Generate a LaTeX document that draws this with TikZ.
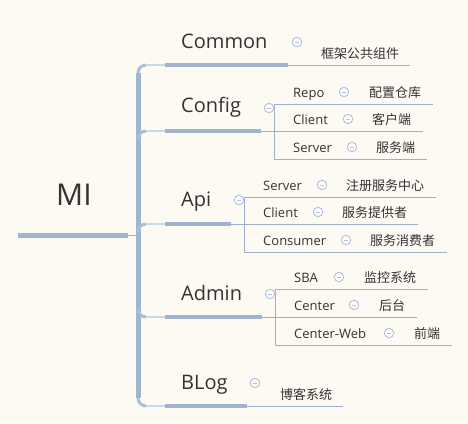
\documentclass[tikz,border=0pt]{standalone}
\usepackage{fontspec}
\setmainfont{Open Sans}
\newfontfamily\cjk{Noto Sans CJK SC}
\usepackage{tikz}
\usetikzlibrary{positioning}
\usepackage{xcolor}
\definecolor{mmbg}{RGB}{253,250,243}
\definecolor{mmline}{RGB}{160,180,205}
\definecolor{mmlight}{RGB}{205,216,230}
\definecolor{mmthin}{RGB}{158,176,202}
\definecolor{mmfold}{RGB}{178,192,228}
\definecolor{mmtext}{RGB}{51,51,51}
\tikzstyle{trunk} = [line width=5pt, color=mmline]
\tikzstyle{corner} = [line width=3pt, color=mmline!70!mmlight]
\tikzstyle{stem} = [line width=1.6pt, color=mmlight]
\tikzstyle{underline} = [line width=4pt, color=mmline]
\tikzstyle{thinline} = [line width=1pt, color=mmthin]
\tikzstyle{roottopic} = [anchor=base west, inner sep=0pt, text=mmtext, font=\fontsize{30}{36}\selectfont]
\tikzstyle{topic} = [anchor=base west, inner sep=0pt, text=mmtext, font=\fontsize{20}{24}\selectfont]
\tikzstyle{subtopic} = [anchor=base west, inner sep=0pt, text=mmtext, font=\fontsize{13}{16}\selectfont]
\tikzstyle{cntopic} = [subtopic, font=\fontsize{13}{16}\selectfont\cjk]
\tikzstyle{foldicon} = [circle, draw=mmfold, fill=white!60!mmbg, line width=0.9pt, minimum size=9.5pt, inner sep=0pt,
    path picture={\draw[mmfold, line width=0.9pt] ([xshift=2.3pt]path picture bounding box.west) -- ([xshift=-2.3pt]path picture bounding box.east);}]

\begin{document}
\begin{tikzpicture}[x=1pt, y=-1pt]
    \useasboundingbox[fill=mmbg] (0,0) rectangle (468,423);

    % Root
    \node[roottopic] (mi) at (56,205.7) {MI};
    \coordinate (mi-a) at (18,235);
    \coordinate (mi-b) at (128,235);
    \coordinate (hub) at (138,235);
    \draw[line width=5pt, color=mmline] (mi-a) -- (mi-b);
    \draw[thinline] (mi-b) -- (hub);

    % Branch starts
    \coordinate (common-a) at (165,65);
    \coordinate (config-a) at (165,131);
    \coordinate (api-a) at (165,224);
    \coordinate (admin-a) at (165,317);
    \coordinate (blog-a) at (165,406);

    % Trunk
    \draw[trunk] ([yshift=-8pt]hub |- common-a) -- ([yshift=8pt]hub |- blog-a);
    \foreach \b/\s in {common/-8pt, config/-8pt, api/-8pt, admin/8pt, blog/8pt}
    {
        \draw[corner, rounded corners=8pt] ([yshift=\s]hub |- \b-a) -- (hub |- \b-a) -- ([xshift=8pt]hub |- \b-a);
        \draw[stem] ([xshift=8pt]hub |- \b-a) -- (\b-a);
    }

    % Common
    \coordinate (common-b) at (288,65);
    \coordinate (common-c) at (410,65);
    \node[topic] (common) at (181,48.5) {Common};
    \node[foldicon] (common-fold) at (297,42) {};
    \node[cntopic] (common-cn) at (321,58) {框架公共组件};
    \draw[underline] (common-a) -- (common-b);
    \draw[thinline] (common-b) -- (common-c);

    % Config
    \coordinate (config-b) at (261,131);
    \coordinate (config-c) at (423,131);
    \coordinate (config-top) at (274,104);
    \coordinate (config-bot) at (274,159);
    \coordinate (repo-c) at (433,104);
    \coordinate (cfgserver-c) at (427,159);
    \node[topic] (config) at (181,112.5) {Config};
    \node[foldicon] (config-fold) at (269,108) {};
    \draw[underline] (config-a) -- (config-b);
    \draw[thinline] (config-b) -- (config-c);
    \draw[thinline] (config-top) -- (config-bot);
    \draw[thinline] (config-top) -- (repo-c);
    \draw[thinline] (config-bot) -- (cfgserver-c);
    \node[subtopic] (repo) at (293,97) {Repo};
    \node[foldicon] (repo-fold) at (344,92) {};
    \node[cntopic] (repo-cn) at (369,97) {配置仓库};
    \node[subtopic] (cfgclient) at (293,124) {Client};
    \node[foldicon] (cfgclient-fold) at (348,119) {};
    \node[cntopic] (cfgclient-cn) at (372,124) {客户端};
    \node[subtopic] (cfgserver) at (293,152) {Server};
    \node[foldicon] (cfgserver-fold) at (352,147) {};
    \node[cntopic] (cfgserver-cn) at (376,152) {服务端};

    % Api
    \coordinate (api-b) at (231,224);
    \coordinate (api-c) at (418,224);
    \coordinate (api-top) at (244,197);
    \coordinate (api-bot) at (244,252);
    \coordinate (apiserver-c) at (436,197);
    \coordinate (consumer-c) at (447,252);
    \node[topic] (api) at (181,206) {Api};
    \node[foldicon] (api-fold) at (239,200) {};
    \draw[underline] (api-a) -- (api-b);
    \draw[thinline] (api-b) -- (api-c);
    \draw[thinline] (api-top) -- (api-bot);
    \draw[thinline] (api-top) -- (apiserver-c);
    \draw[thinline] (api-bot) -- (consumer-c);
    \node[subtopic] (apiserver) at (263,190) {Server};
    \node[foldicon] (apiserver-fold) at (322,185) {};
    \node[cntopic] (apiserver-cn) at (346,190) {注册服务中心};
    \node[subtopic] (apiclient) at (263,217) {Client};
    \node[foldicon] (apiclient-fold) at (318,212) {};
    \node[cntopic] (apiclient-cn) at (342,217) {服务提供者};
    \node[subtopic] (consumer) at (263,245) {Consumer};
    \node[foldicon] (consumer-fold) at (346,240) {};
    \node[cntopic] (consumer-cn) at (370,245) {服务消费者};

    % Admin
    \coordinate (admin-b) at (262,317);
    \coordinate (admin-c) at (417,317);
    \coordinate (admin-top) at (275,289);
    \coordinate (admin-bot) at (275,345);
    \coordinate (sba-c) at (428,289);
    \coordinate (centerweb-c) at (452,345);
    \node[topic] (admin) at (181,300) {Admin};
    \node[foldicon] (admin-fold) at (270,294) {};
    \draw[underline] (admin-a) -- (admin-b);
    \draw[thinline] (admin-b) -- (admin-c);
    \draw[thinline] (admin-top) -- (admin-bot);
    \draw[thinline] (admin-top) -- (sba-c);
    \draw[thinline] (admin-bot) -- (centerweb-c);
    \node[subtopic] (sba) at (294,282) {SBA};
    \node[foldicon] (sba-fold) at (339,277) {};
    \node[cntopic] (sba-cn) at (364,282) {监控系统};
    \node[subtopic] (center) at (294,310) {Center};
    \node[foldicon] (center-fold) at (354,305) {};
    \node[cntopic] (center-cn) at (379,310) {后台};
    \node[subtopic] (centerweb) at (294,338) {Center-Web};
    \node[foldicon] (centerweb-fold) at (389,333) {};
    \node[cntopic] (centerweb-cn) at (414,338) {前端};

    % BLog
    \coordinate (blog-b) at (247,406);
    \coordinate (blog-c) at (343,406);
    \node[topic] (blog) at (181,389) {BLog};
    \node[foldicon] (blog-fold) at (255,383) {};
    \node[cntopic] (blog-cn) at (280,399) {博客系统};
    \draw[underline] (blog-a) -- (blog-b);
    \draw[thinline] (blog-b) -- (blog-c);
\end{tikzpicture}
\end{document}
